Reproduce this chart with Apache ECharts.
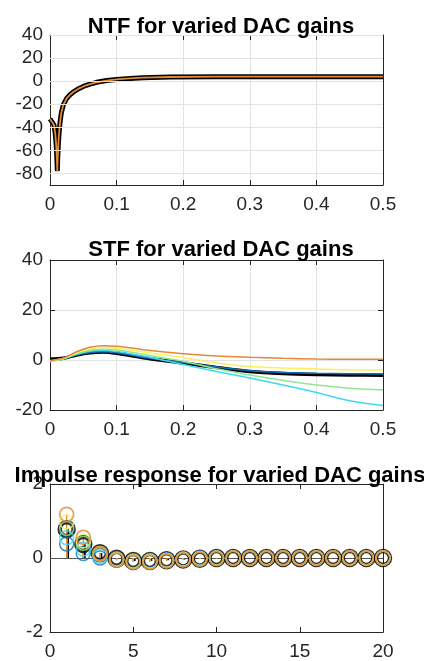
<!DOCTYPE html>
<html>
<head>
<meta charset="utf-8">
<script src="https://cdn.jsdelivr.net/npm/echarts@6/dist/echarts.min.js"></script>
<style>
  html, body { margin: 0; padding: 0; background: #fff; }
  #chart { width: 424px; height: 661px; }
</style>
</head>
<body>
<div id="chart"></div>
<script>
// NTF magnitude in dB (all DAC gains lie on top of each other)
const ntfFreq = [0, 0.003, 0.006, 0.008, 0.0095, 0.0105, 0.011, 0.0115, 0.0125, 0.0135, 0.015, 0.017, 0.02, 0.025, 0.03, 0.036, 0.043, 0.05, 0.06, 0.07, 0.085, 0.1, 0.12, 0.14, 0.18, 0.25, 0.3, 0.4, 0.5];
const ntfDb = [-32.7, -34, -38, -46, -57, -70, -78, -68, -55, -46, -36, -27.5, -20.5, -15, -11.8, -9, -6.5, -4.6, -2.6, -1.0, 0.5, 1.5, 2.4, 3.0, 3.6, 3.9, 3.9, 3.9, 3.9];

// STF magnitude in dB, one array per DAC gain
const stfFreq = [0, 0.02, 0.04, 0.06, 0.08, 0.1, 0.125, 0.15, 0.2, 0.25, 0.3, 0.35, 0.4, 0.45, 0.5];
const stfBlack = [0.4, 0.7, 2.0, 2.9, 3.2, 2.7, 1.6, 0.5, -1.2, -3.0, -4.6, -5.4, -5.8, -6.0, -6.1];
const stfBlue = [-0.2, 0.6, 2.0, 3.0, 3.3, 2.9, 1.8, 0.7, -1.0, -2.8, -4.3, -5.0, -5.3, -5.5, -5.6];
const stfCyan = [-0.6, 0.4, 2.3, 3.5, 3.8, 3.4, 2.3, 1.1, -1.8, -4.6, -7.2, -10.0, -13.0, -16.3, -18.2];
const stfGreen = [-0.5, 0.5, 2.5, 3.9, 4.3, 4.0, 3.0, 1.8, -0.5, -3.5, -6.0, -8.2, -10.0, -11.3, -12.0];
const stfYellow = [-0.5, 0.6, 2.9, 4.5, 5.0, 4.7, 3.8, 2.8, 1.0, -1.2, -2.6, -3.2, -3.6, -3.9, -4.0];
const stfOrange = [-0.3, 0.8, 3.3, 5.1, 5.7, 5.5, 4.7, 3.8, 2.5, 1.6, 1.1, 0.7, 0.4, 0.3, 0.3];

// impulse response samples n = 1..20
const irN = [1, 2, 3, 4, 5, 6, 7, 8, 9, 10, 11, 12, 13, 14, 15, 16, 17, 18, 19, 20];
const irBlack = [0.78, 0.38, 0.13, -0.02, -0.08, -0.08, -0.06, -0.04, -0.02, 0, 0, 0, 0, 0, 0, 0, 0, 0, 0, 0];
const irBlue = [0.38, 0.12, 0.0, -0.06, -0.08, -0.07, -0.05, -0.03, -0.01, 0, 0, 0, 0, 0, 0, 0, 0, 0, 0, 0];
const irCyan = [0.55, 0.24, 0.04, -0.05, -0.09, -0.08, -0.06, -0.03, -0.01, 0, 0, 0, 0, 0, 0, 0, 0, 0, 0, 0];
const irGreen = [0.8, 0.4, 0.1, -0.03, -0.09, -0.09, -0.07, -0.04, -0.02, 0, 0, 0, 0, 0, 0, 0, 0, 0, 0, 0];
const irYellow = [0.97, 0.46, 0.12, -0.04, -0.1, -0.1, -0.07, -0.04, -0.02, -0.01, 0, 0, 0, 0, 0, 0, 0, 0, 0, 0];
const irOrange = [1.18, 0.56, 0.12, -0.05, -0.11, -0.11, -0.08, -0.05, -0.03, -0.01, 0, 0, 0, 0, 0, 0, 0, 0, 0, 0];

// tick values
const ntfYTicks = [-80, -60, -40, -20, 0, 20, 40];

const colors = {
  black: '#000000', blue: '#1070c0', cyan: '#40d8f0',
  green: '#90e890', yellow: '#f8f060', orange: '#e08a3a'
};
const font = 'Liberation Sans';
const axisColor = '#262626';
const gridColor = '#e3e3e3';

function xAxisPair(grid, min, max, interval, split) {
  const base = {
    gridIndex: grid, type: 'value', min: min, max: max, interval: interval,
    axisLine: { show: true, onZero: false, lineStyle: { color: axisColor, width: 1 } },
    axisTick: { show: true, inside: true, length: 5, lineStyle: { color: axisColor } }
  };
  return [
    Object.assign({}, base, {
      position: 'bottom',
      axisLabel: { show: true, color: axisColor, fontSize: 19, fontFamily: font, margin: 10 },
      splitLine: { show: split, lineStyle: { color: gridColor, width: 1 } }
    }),
    Object.assign({}, base, {
      position: 'top',
      axisLabel: { show: false },
      splitLine: { show: false }
    })
  ];
}

function yAxisPair(grid, min, max, interval, split, custom) {
  const base = {
    gridIndex: grid, type: 'value', min: min, max: max,
    axisLine: { show: true, onZero: false, lineStyle: { color: axisColor, width: 1 } },
    axisTick: { show: true, inside: true, length: 5, lineStyle: { color: axisColor } }
  };
  if (interval) base.interval = interval;
  if (custom) base.axisTick.customValues = custom;
  const left = Object.assign({}, base, {
    position: 'left',
    axisLabel: { show: true, color: axisColor, fontSize: 19, fontFamily: font, margin: 7 },
    splitLine: { show: split, lineStyle: { color: gridColor, width: 1 } }
  });
  if (custom) left.axisLabel.customValues = custom;
  return [
    left,
    Object.assign({}, base, {
      position: 'right',
      axisLabel: { show: false },
      splitLine: { show: false }
    })
  ];
}

function pairs(xs, ys) {
  return xs.map(function (x, i) { return [x, ys[i]]; });
}

const series = [];

// NTF: horizontal grid lines at the labelled ticks
series.push({
  type: 'line', xAxisIndex: 0, yAxisIndex: 0, data: [], silent: true, z: 1,
  markLine: {
    silent: true, symbol: 'none', label: { show: false },
    lineStyle: { color: gridColor, type: 'solid', width: 1 },
    data: ntfYTicks.map(function (v) { return { yAxis: v }; })
  }
});
series.push({
  type: 'line', xAxisIndex: 0, yAxisIndex: 0, showSymbol: false, z: 3,
  data: pairs(ntfFreq, ntfDb), lineStyle: { color: colors.black, width: 5 }
});
series.push({
  type: 'line', xAxisIndex: 0, yAxisIndex: 0, showSymbol: false, z: 4,
  data: pairs(ntfFreq, ntfDb), lineStyle: { color: colors.orange, width: 1.8 }
});

// STF
const stfList = [
  [stfBlack, colors.black, 3.5], [stfBlue, colors.blue, 1.5], [stfCyan, colors.cyan, 1.5],
  [stfGreen, colors.green, 1.5], [stfYellow, colors.yellow, 1.5], [stfOrange, colors.orange, 1.5]
];
stfList.forEach(function (s, i) {
  series.push({
    type: 'line', xAxisIndex: 2, yAxisIndex: 2, showSymbol: false, smooth: 0.3, z: 3 + i,
    data: pairs(stfFreq, s[0]), lineStyle: { color: s[1], width: s[2] }
  });
});

// Impulse response: stems + open circles
const irList = [
  [irBlack, colors.black, 3, 4.5], [irBlue, colors.blue, 1.2, 1.5], [irCyan, colors.cyan, 1.2, 1.5],
  [irGreen, colors.green, 1.2, 1.5], [irYellow, colors.yellow, 1.2, 1.5], [irOrange, colors.orange, 1.2, 1.8]
];
irList.forEach(function (s, i) {
  const stem = {
    type: 'bar', xAxisIndex: 4, yAxisIndex: 4, barWidth: s[2], barGap: '-100%', z: 2 + i,
    data: pairs(irN, s[0]), itemStyle: { color: s[1] }, silent: true
  };
  if (i === 0) {
    stem.markLine = {
      silent: true, symbol: 'none', label: { show: false },
      lineStyle: { color: '#555555', type: 'solid', width: 1 },
      data: [{ yAxis: 0 }]
    };
  }
  series.push(stem);
});
irList.forEach(function (s, i) {
  series.push({
    type: 'scatter', xAxisIndex: 4, yAxisIndex: 4, symbol: 'circle', symbolSize: 14, z: 10 + i,
    data: pairs(irN, s[0]),
    itemStyle: { color: 'rgba(0,0,0,0)', borderColor: s[1], borderWidth: s[3] }
  });
});

const titleStyle = { fontSize: 22, fontWeight: 'bold', color: '#000', fontFamily: font };

const option = {
  animation: false,
  backgroundColor: '#fff',
  title: [
    { text: 'NTF for varied DAC gains', left: 216, top: 11, textAlign: 'center', textStyle: titleStyle },
    { text: 'STF for varied DAC gains', left: 216, top: 234, textAlign: 'center', textStyle: titleStyle },
    { text: 'Impulse response for varied DAC gains', left: 215, top: 460, textAlign: 'center', textStyle: titleStyle }
  ],
  grid: [
    { left: 50, top: 35, width: 333, height: 150 },
    { left: 50, top: 260, width: 333, height: 150 },
    { left: 50, top: 484, width: 333, height: 149 }
  ],
  xAxis: [].concat(
    xAxisPair(0, 0, 0.5, 0.1, true),
    xAxisPair(1, 0, 0.5, 0.1, true),
    xAxisPair(2, 0, 20, 5, false)
  ),
  yAxis: [].concat(
    yAxisPair(0, -90, 40, null, false, ntfYTicks),
    yAxisPair(1, -20, 40, 20, true, null),
    yAxisPair(2, -2, 2, 2, false, null)
  ),
  series: series
};

echarts.init(document.getElementById('chart')).setOption(option);
</script>
</body>
</html>
